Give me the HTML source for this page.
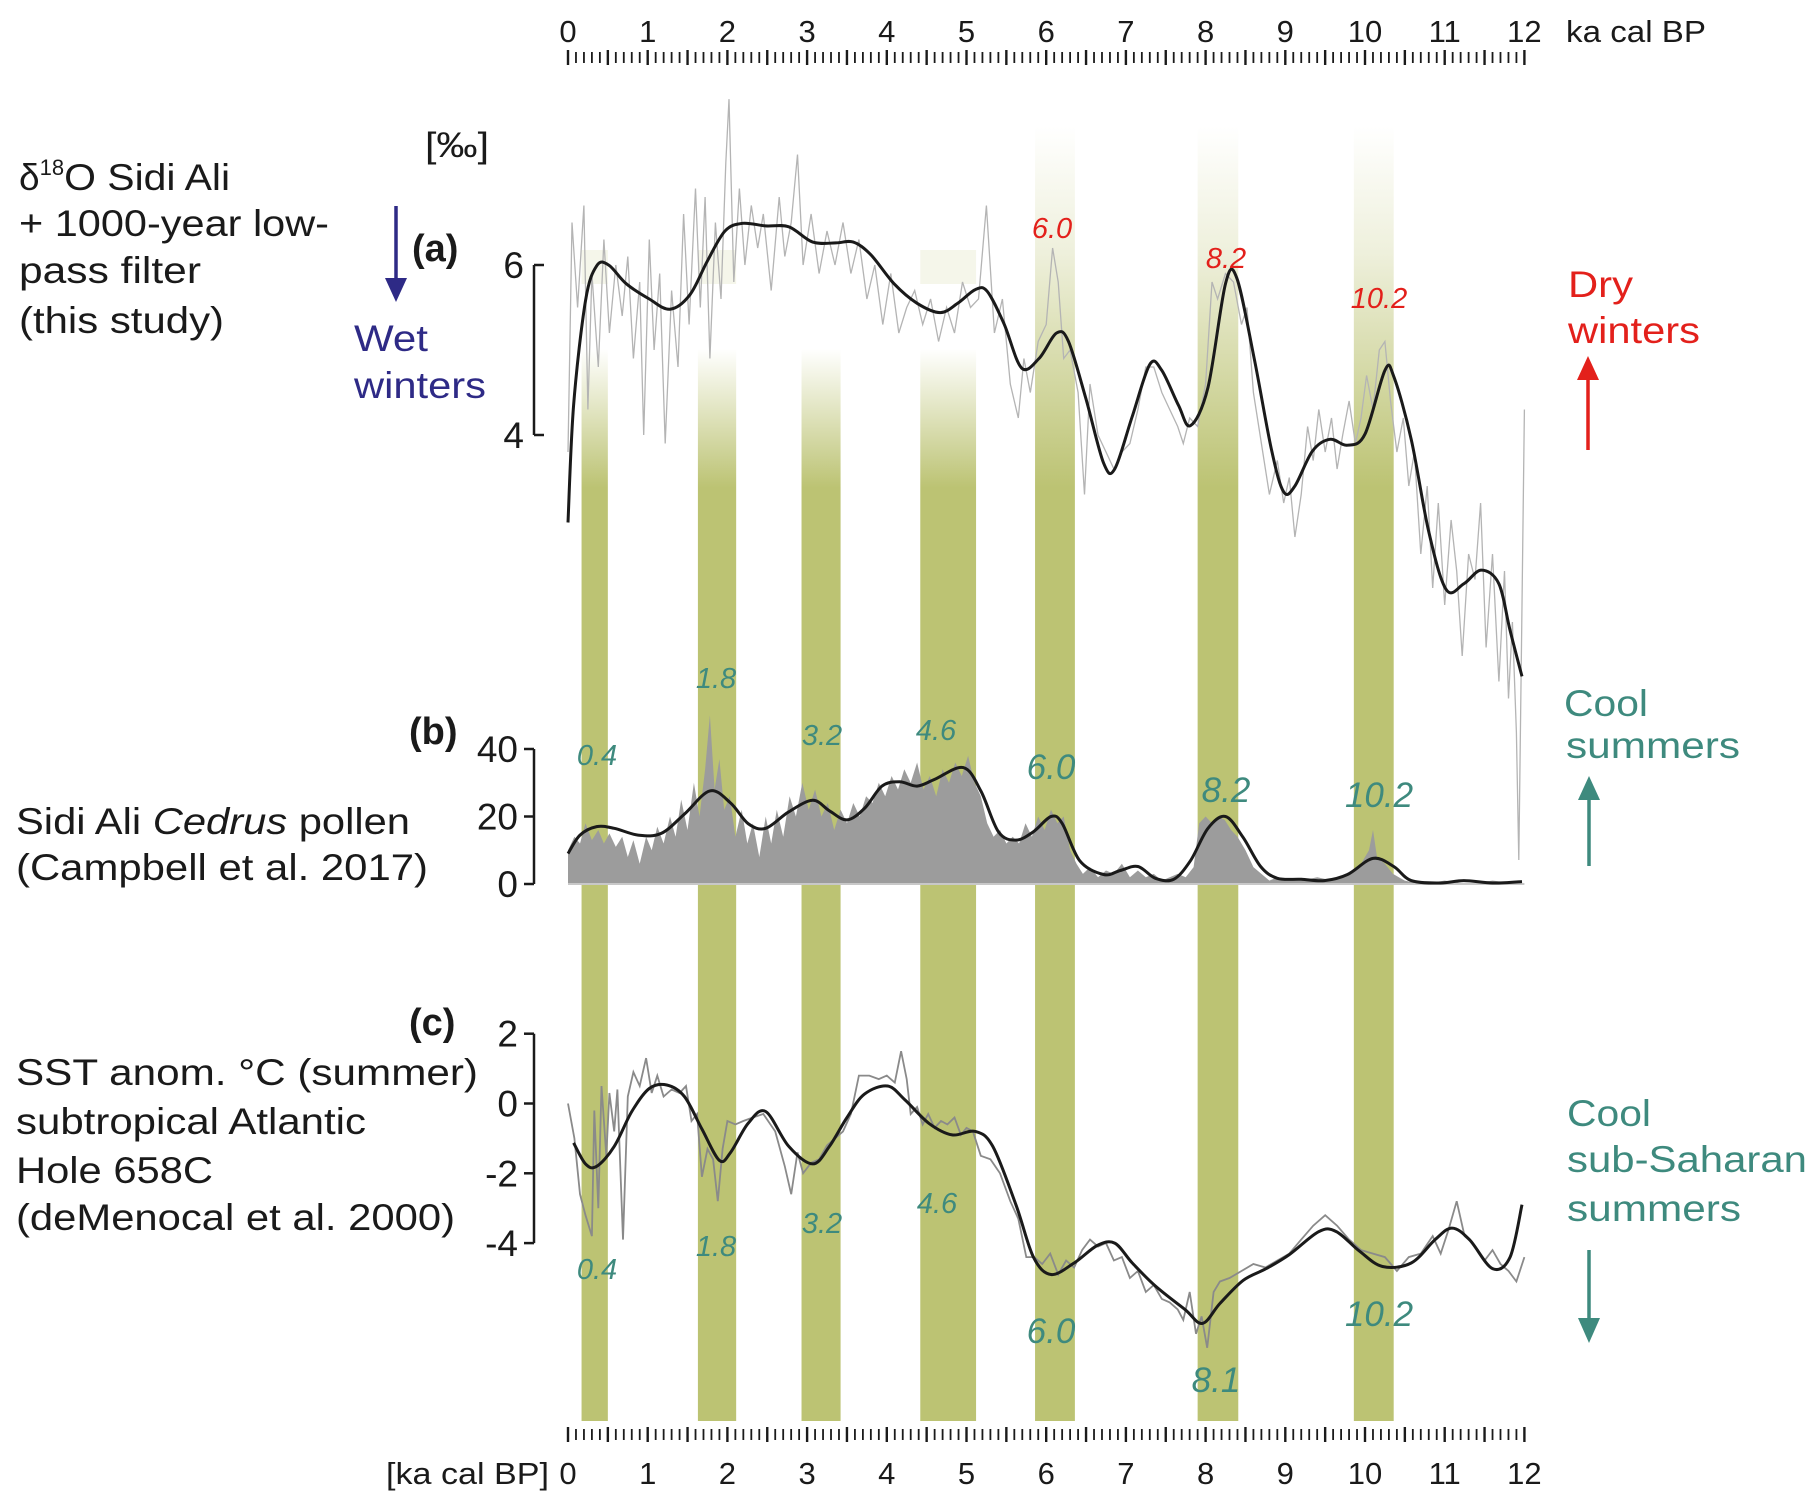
<!DOCTYPE html>
<html><head><meta charset="utf-8"><style>
html,body{margin:0;padding:0;background:#fff;}
svg{display:block;font-family:"Liberation Sans",Arial,sans-serif;}
</style></head>
<body>
<svg id="chart" width="1815" height="1509" viewBox="0 0 1815 1509" xmlns="http://www.w3.org/2000/svg">
<defs>
<linearGradient id="fadeShort" x1="0" y1="349" x2="0" y2="488" gradientUnits="userSpaceOnUse">
<stop offset="0" stop-color="#bcc373" stop-opacity="0"/><stop offset="1" stop-color="#bcc373" stop-opacity="1"/></linearGradient>
<linearGradient id="fadeLong" x1="0" y1="126" x2="0" y2="488" gradientUnits="userSpaceOnUse">
<stop offset="0" stop-color="#bcc373" stop-opacity="0"/><stop offset="0.35" stop-color="#bcc373" stop-opacity="0.25"/><stop offset="1" stop-color="#bcc373" stop-opacity="1"/></linearGradient>
</defs>
<g id="bands"></g>
<g id="panelA"></g>
<g id="panelB"></g>
<g id="panelC"></g>
<g id="axes"></g>

<g font-size="37" fill="#1a1a1a">
<text x="425" y="157" font-size="35" textLength="64" lengthAdjust="spacingAndGlyphs">[‰]</text>
<text x="19" y="190">δ<tspan font-size="22" dy="-15">18</tspan><tspan dy="15" textLength="166" lengthAdjust="spacingAndGlyphs">O Sidi Ali</tspan></text>
<text x="19" y="236" textLength="310" lengthAdjust="spacingAndGlyphs">+ 1000-year low-</text>
<text x="19" y="283" textLength="182" lengthAdjust="spacingAndGlyphs">pass filter</text>
<text x="19" y="333" textLength="205" lengthAdjust="spacingAndGlyphs">(this study)</text>
<text x="412" y="261" font-weight="bold" font-size="38">(a)</text>
<text x="354" y="351" fill="#2e2a86" textLength="74" lengthAdjust="spacingAndGlyphs">Wet</text>
<text x="354" y="398" fill="#2e2a86" textLength="132" lengthAdjust="spacingAndGlyphs">winters</text>
<line x1="396" y1="206" x2="396" y2="282" stroke="#2e2a86" stroke-width="3.5"/>
<polygon points="385,278 407,278 396,302" fill="#2e2a86"/>
<text x="1568" y="297" fill="#e3201b" textLength="65" lengthAdjust="spacingAndGlyphs">Dry</text>
<text x="1568" y="343" fill="#e3201b" textLength="132" lengthAdjust="spacingAndGlyphs">winters</text>
<line x1="1588" y1="450" x2="1588" y2="375" stroke="#e3201b" stroke-width="3.5"/>
<polygon points="1577,380 1599,380 1588,356" fill="#e3201b"/>
<g font-style="italic" font-size="29" fill="#e3201b" text-anchor="middle">
<text x="1052" y="238">6.0</text>
<text x="1226" y="268">8.2</text>
<text x="1379" y="308">10.2</text>
</g>

<text x="409" y="744" font-weight="bold" font-size="38">(b)</text>
<text x="16" y="834" textLength="394" lengthAdjust="spacingAndGlyphs">Sidi Ali <tspan font-style="italic">Cedrus</tspan> pollen</text>
<text x="16" y="880" textLength="412" lengthAdjust="spacingAndGlyphs">(Campbell et al. 2017)</text>
<text x="1564" y="716" fill="#3e8a7e" textLength="84" lengthAdjust="spacingAndGlyphs">Cool</text>
<text x="1566" y="758" fill="#3e8a7e" textLength="174" lengthAdjust="spacingAndGlyphs">summers</text>
<line x1="1589" y1="866" x2="1589" y2="795" stroke="#3e8a7e" stroke-width="3.5"/>
<polygon points="1578,800 1600,800 1589,776" fill="#3e8a7e"/>
<g font-style="italic" fill="#3e8a7e" text-anchor="middle">
<text x="597" y="765" font-size="29">0.4</text>
<text x="716" y="688" font-size="29">1.8</text>
<text x="822" y="745" font-size="29">3.2</text>
<text x="936" y="740" font-size="29">4.6</text>
<text x="1051" y="779" font-size="35">6.0</text>
<text x="1226" y="802" font-size="35">8.2</text>
<text x="1379" y="807" font-size="35">10.2</text>
</g>

<text x="409" y="1035" font-weight="bold" font-size="38">(c)</text>
<text x="16" y="1085" textLength="462" lengthAdjust="spacingAndGlyphs">SST anom. °C (summer)</text>
<text x="16" y="1134" textLength="350" lengthAdjust="spacingAndGlyphs">subtropical Atlantic</text>
<text x="16" y="1183" textLength="197" lengthAdjust="spacingAndGlyphs">Hole 658C</text>
<text x="16" y="1230" textLength="439" lengthAdjust="spacingAndGlyphs">(deMenocal et al. 2000)</text>
<text x="1567" y="1126" fill="#3e8a7e" textLength="84" lengthAdjust="spacingAndGlyphs">Cool</text>
<text x="1567" y="1172" fill="#3e8a7e" textLength="240" lengthAdjust="spacingAndGlyphs">sub-Saharan</text>
<text x="1567" y="1221" fill="#3e8a7e" textLength="174" lengthAdjust="spacingAndGlyphs">summers</text>
<line x1="1589" y1="1250" x2="1589" y2="1322" stroke="#3e8a7e" stroke-width="3.5"/>
<polygon points="1578,1318 1600,1318 1589,1343" fill="#3e8a7e"/>
<g font-style="italic" fill="#3e8a7e" text-anchor="middle">
<text x="597" y="1279" font-size="29">0.4</text>
<text x="716" y="1256" font-size="29">1.8</text>
<text x="822" y="1233" font-size="29">3.2</text>
<text x="937" y="1213" font-size="29">4.6</text>
<text x="1051" y="1343" font-size="35">6.0</text>
<text x="1216" y="1392" font-size="35">8.1</text>
<text x="1379" y="1326" font-size="35">10.2</text>
</g>
<text x="1566" y="42" font-size="31" textLength="140" lengthAdjust="spacingAndGlyphs">ka cal  BP</text>
<text x="386" y="1484" font-size="31" textLength="163" lengthAdjust="spacingAndGlyphs">[ka cal  BP]</text>
</g>
</svg>
<script>
// ---------- data ----------
const bandCenters = [0.4, 1.8, 3.2, 4.6, 6.0, 8.2, 10.2];
const bandStarts  = [0.17, 1.63, 2.93, 4.42, 5.86, 7.9, 9.86];
const bandEnds    = [0.5, 2.11, 3.42, 5.12, 6.36, 8.41, 10.36];

const d18oSmoothAge = [0,0.07,0.22,0.36,0.51,0.73,1.02,1.28,1.53,1.75,1.97,2.19,2.48,2.77,3.07,3.36,3.58,3.8,4.09,4.38,4.67,4.89,5.11,5.26,5.47,5.69,5.91,6.13,6.28,6.5,6.72,6.86,7.08,7.3,7.45,7.66,7.81,8.03,8.25,8.39,8.61,8.83,8.98,9.12,9.34,9.56,9.78,10.0,10.25,10.36,10.58,10.8,11.02,11.24,11.46,11.68,11.82,11.97];
const d18oSmoothVal = [2.97,4.35,5.58,5.99,6.0,5.78,5.6,5.48,5.65,6.05,6.4,6.49,6.46,6.45,6.27,6.26,6.27,6.12,5.78,5.55,5.44,5.55,5.71,5.69,5.31,4.79,4.9,5.2,5.1,4.42,3.67,3.6,4.22,4.83,4.76,4.35,4.11,4.56,5.78,5.85,4.9,3.81,3.33,3.4,3.81,3.95,3.88,4.01,4.76,4.69,3.95,2.86,2.18,2.25,2.41,2.25,1.7,1.16];
const d18oRawAge = [0,0.05,0.12,0.2,0.25,0.3,0.38,0.45,0.52,0.6,0.68,0.75,0.82,0.9,0.95,1.02,1.08,1.15,1.22,1.3,1.38,1.45,1.52,1.6,1.66,1.72,1.78,1.85,1.92,1.98,2.02,2.08,2.15,2.22,2.3,2.38,2.45,2.55,2.65,2.72,2.8,2.88,2.95,3.05,3.15,3.25,3.35,3.45,3.55,3.65,3.75,3.85,3.95,4.05,4.15,4.25,4.35,4.45,4.55,4.65,4.75,4.85,4.95,5.05,5.15,5.25,5.35,5.45,5.55,5.65,5.72,5.8,5.9,6.0,6.08,6.15,6.22,6.3,6.4,6.48,6.55,6.65,6.75,6.85,6.95,7.05,7.15,7.25,7.35,7.45,7.55,7.65,7.72,7.8,7.9,8.0,8.08,8.15,8.25,8.35,8.45,8.52,8.6,8.7,8.8,8.9,8.98,9.05,9.12,9.2,9.28,9.35,9.42,9.5,9.58,9.65,9.72,9.8,9.88,9.95,10.02,10.1,10.18,10.25,10.32,10.4,10.48,10.55,10.62,10.7,10.78,10.85,10.92,11.0,11.08,11.15,11.22,11.3,11.38,11.45,11.52,11.6,11.68,11.75,11.8,11.85,11.9,11.93,11.97,12.0];
const d18oRawVal = [3.8,6.5,5.5,6.7,4.3,5.9,4.8,6.3,5.2,6.0,5.4,6.1,4.9,5.8,4.0,6.3,5.0,5.9,3.9,5.7,4.8,6.6,5.3,6.9,5.5,6.8,4.9,6.5,5.6,7.2,7.95,5.8,6.9,6.0,6.7,6.2,6.6,5.7,6.8,6.1,6.5,7.3,6.0,6.6,5.9,6.4,6.0,6.5,5.9,6.3,5.6,6.0,5.3,5.9,5.2,5.5,5.7,5.3,5.6,5.1,5.5,5.2,5.8,5.5,5.6,6.7,5.2,5.6,4.6,4.2,4.9,4.5,5.1,5.3,6.2,5.8,4.9,5.0,4.5,3.3,4.6,4.0,3.8,3.6,3.8,3.9,4.3,4.8,4.8,4.5,4.3,4.1,3.9,4.2,4.1,4.6,5.8,5.6,5.9,5.8,5.3,5.5,4.5,3.9,3.3,3.7,3.2,3.5,2.8,3.3,4.1,3.7,4.3,3.8,4.2,3.6,4.0,4.4,3.9,4.2,4.7,4.3,5.0,5.1,4.4,3.8,4.2,3.4,3.8,2.6,3.4,2.2,3.2,2.0,3.0,2.4,1.4,2.6,2.3,3.2,1.5,2.6,1.1,2.4,0.9,1.8,0.5,-1.0,2.0,4.3];

const pollenSmoothAge = [0,0.15,0.36,0.58,0.88,1.17,1.46,1.78,2.04,2.26,2.48,2.77,3.07,3.28,3.5,3.72,3.94,4.16,4.38,4.6,4.96,5.18,5.4,5.62,5.84,6.06,6.2,6.42,6.72,6.93,7.15,7.37,7.6,7.81,8.03,8.25,8.47,8.69,8.9,9.2,9.49,9.78,10.1,10.36,10.58,10.95,11.24,11.6,11.97];
const pollenSmoothVal = [9,14.5,17,16.5,14.5,15,20.7,27.6,24,17.9,16.5,21.4,24.8,21.7,19,22.4,29,30.3,29,31,34.5,27.6,15.5,13,15.5,20,18,6.9,2.8,4,5.2,1.7,1.4,6.9,16.5,20,13.8,5.2,1.7,1.4,1,2.8,7.6,5.2,1,0.3,1,0.3,0.7];
const pollenRawAge = [0,0.08,0.15,0.22,0.3,0.38,0.45,0.52,0.6,0.68,0.75,0.82,0.9,0.98,1.05,1.12,1.2,1.28,1.35,1.42,1.5,1.58,1.65,1.72,1.78,1.84,1.9,1.96,2.03,2.1,2.18,2.25,2.32,2.4,2.48,2.55,2.62,2.7,2.78,2.86,2.94,3.02,3.1,3.18,3.26,3.34,3.42,3.5,3.58,3.66,3.74,3.82,3.9,3.98,4.06,4.14,4.22,4.3,4.38,4.46,4.54,4.62,4.7,4.78,4.86,4.94,5.02,5.1,5.18,5.26,5.34,5.42,5.5,5.58,5.66,5.74,5.82,5.9,5.98,6.06,6.14,6.22,6.3,6.38,6.46,6.55,6.65,6.75,6.85,6.95,7.05,7.15,7.25,7.35,7.45,7.55,7.65,7.75,7.85,7.92,8.0,8.08,8.16,8.24,8.32,8.4,8.5,8.6,8.7,8.8,8.9,9.0,9.2,9.4,9.6,9.8,9.95,10.05,10.1,10.15,10.25,10.35,10.5,10.7,11.0,11.3,11.6,12];
const pollenRawVal = [10,14,12,18,13,16,12,15,11,14,8,13,6,14,10,17,12,20,14,25,16,30,20,34,50,28,37,22,26,14,22,12,18,8,20,12,22,14,26,20,30,22,28,20,24,16,22,18,24,20,26,24,30,26,32,28,34,30,36,28,32,26,34,30,36,32,38,30,26,18,14,16,12,14,12,18,14,20,16,22,18,20,10,6,3,5,2,4,3,6,2,4,2,3,1,2,3,2,5,18,20,18,20,19,16,14,10,5,3,1,2,1,1,2,1,3,6,10,16,8,6,3,1,0,1,0,1,0];

const sstSmoothAge = [0.07,0.22,0.36,0.58,0.8,1.02,1.24,1.46,1.68,1.9,2.04,2.26,2.48,2.77,3.07,3.28,3.5,3.72,4.01,4.23,4.53,4.82,5.11,5.33,5.62,5.84,6.06,6.35,6.64,6.86,7.08,7.37,7.74,7.96,8.18,8.47,8.76,9.05,9.42,9.64,9.93,10.22,10.58,10.88,11.09,11.31,11.6,11.82,11.97];
const sstSmoothVal = [-1.13,-1.73,-1.8,-1.23,-0.23,0.43,0.53,0.2,-0.73,-1.63,-1.4,-0.57,-0.23,-1.23,-1.73,-1.23,-0.4,0.27,0.5,0.1,-0.57,-0.9,-0.8,-1.23,-2.9,-4.4,-4.9,-4.57,-4.07,-4,-4.57,-5.23,-5.9,-6.3,-5.73,-5.07,-4.73,-4.33,-3.67,-3.67,-4.23,-4.67,-4.57,-3.9,-3.57,-3.9,-4.73,-4.4,-2.9];
const sstRawAge = [0,0.08,0.15,0.22,0.3,0.33,0.38,0.42,0.48,0.52,0.58,0.62,0.69,0.75,0.82,0.9,0.98,1.05,1.12,1.2,1.3,1.4,1.48,1.55,1.62,1.68,1.75,1.82,1.88,1.94,2.0,2.1,2.2,2.32,2.45,2.6,2.72,2.8,2.88,2.95,3.05,3.15,3.25,3.35,3.45,3.55,3.65,3.78,3.9,4.0,4.1,4.18,4.25,4.3,4.38,4.45,4.52,4.6,4.68,4.76,4.85,4.93,5.0,5.08,5.18,5.3,5.42,5.55,5.65,5.75,5.85,5.95,6.05,6.15,6.25,6.35,6.45,6.55,6.65,6.75,6.85,6.95,7.05,7.15,7.25,7.35,7.45,7.55,7.65,7.72,7.8,7.88,7.95,8.02,8.1,8.18,8.3,8.45,8.6,8.75,8.9,9.05,9.2,9.35,9.5,9.65,9.8,9.95,10.1,10.25,10.4,10.55,10.7,10.85,10.95,11.05,11.15,11.25,11.35,11.5,11.6,11.7,11.8,11.9,12.0];
const sstRawVal = [0.0,-1.0,-2.6,-3.2,-3.8,-0.2,-3.0,0.5,-1.5,0.3,-0.8,0.4,-3.9,0.2,0.9,0.5,1.3,0.3,0.8,0.2,0.4,0.3,0.5,-0.5,-0.3,-2.1,-1.3,-1.6,-2.8,-1.3,-0.5,-0.6,-0.5,-0.4,-0.3,-0.8,-1.8,-2.6,-1.4,-2.0,-1.7,-1.6,-1.2,-1.0,-0.8,-0.3,0.8,0.8,0.7,0.8,0.6,1.5,0.7,-0.3,-0.1,-0.6,-0.3,-0.7,-0.5,-0.6,-0.4,-0.9,-0.7,-0.8,-1.5,-1.6,-2.0,-2.8,-3.3,-4.4,-4.4,-4.6,-4.3,-4.9,-4.5,-4.7,-4.2,-3.9,-4.1,-4.0,-4.5,-4.4,-5.0,-4.8,-5.4,-5.2,-5.6,-5.7,-5.9,-6.2,-5.4,-6.6,-6.1,-7.0,-5.4,-5.1,-5.0,-4.8,-4.6,-4.7,-4.5,-4.3,-3.9,-3.5,-3.2,-3.5,-3.9,-4.2,-4.3,-4.4,-4.8,-4.4,-4.3,-3.8,-4.3,-3.6,-2.8,-3.8,-4.0,-4.5,-4.2,-4.6,-4.8,-5.1,-4.4];

const axisTicksA = [4, 6];
const axisTicksB = [0, 20, 40];
const axisTicksC = [-4, -2, 0, 2];
const timeLabels = [0,1,2,3,4,5,6,7,8,9,10,11,12];
const paleTopBands = [0.4, 1.8, 4.6];

// ---------- scales ----------
const NS = "http://www.w3.org/2000/svg";
const X = t => 568 + t * 79.7;
const YA = v => 265 + (6 - v) * 85;
const YB = v => 884 - v * 3.375;
const YC = v => 1103.5 - v * 34.9;

function mk(tag, attrs, parent) {
  const e = document.createElementNS(NS, tag);
  for (const k in attrs) e.setAttribute(k, attrs[k]);
  parent.appendChild(e);
  return e;
}
function pathFrom(ages, vals, ys) {
  return ages.map((a, i) => (i ? "L" : "M") + X(a).toFixed(1) + "," + ys(vals[i]).toFixed(1)).join("");
}
function smoothFrom(ages, vals, ys) {
  const p = ages.map((a, i) => [X(a), ys(vals[i])]);
  let d = "M" + p[0][0].toFixed(1) + "," + p[0][1].toFixed(1);
  for (let i = 0; i < p.length - 1; i++) {
    const p0 = p[Math.max(0, i - 1)], p1 = p[i], p2 = p[i + 1], p3 = p[Math.min(p.length - 1, i + 2)];
    const c1 = [p1[0] + (p2[0] - p0[0]) / 6, p1[1] + (p2[1] - p0[1]) / 6];
    const c2 = [p2[0] - (p3[0] - p1[0]) / 6, p2[1] - (p3[1] - p1[1]) / 6];
    d += "C" + c1[0].toFixed(1) + "," + c1[1].toFixed(1) + " " + c2[0].toFixed(1) + "," + c2[1].toFixed(1) + " " + p2[0].toFixed(1) + "," + p2[1].toFixed(1);
  }
  return d;
}

// ---------- bands ----------
const bandsG = document.getElementById("bands");
bandCenters.forEach((c, i) => {
  const x0 = X(bandStarts[i]), w = X(bandEnds[i]) - x0;
  const late = c >= 6;
  if (paleTopBands.includes(c)) {
    const pale = mk("rect", {x: x0, y: 250, width: w, height: 34, fill: "#bcc373", opacity: 0.15}, bandsG);
    
    
  }
  const r = mk("rect", {x: x0, y: late ? 126 : 349, width: w, height: 1421 - (late ? 126 : 349), fill: late ? "url(#fadeLong)" : "url(#fadeShort)"}, bandsG);
  
  
});

// ---------- panel A ----------
const gA = document.getElementById("panelA");
const rawA = mk("path", {d: pathFrom(d18oRawAge, d18oRawVal, YA), fill: "none", stroke: "#b4b4b4", "stroke-width": 1.3}, gA);


const smA = mk("path", {d: smoothFrom(d18oSmoothAge, d18oSmoothVal, YA), fill: "none", stroke: "#1a1a1a", "stroke-width": 3}, gA);



// ---------- panel B ----------
const gB = document.getElementById("panelB");
const areaD = pathFrom(pollenRawAge, pollenRawVal, YB) + "L" + X(12) + "," + YB(0) + "L" + X(0) + "," + YB(0) + "Z";
const area = mk("path", {d: areaD, fill: "#9c9c9c", stroke: "none"}, gB);


const base = mk("line", {x1: X(0), x2: X(12), y1: YB(0), y2: YB(0), stroke: "#c8c8c8", "stroke-width": 2}, gB);


const smB = mk("path", {d: smoothFrom(pollenSmoothAge, pollenSmoothVal, YB), fill: "none", stroke: "#1a1a1a", "stroke-width": 3}, gB);



// ---------- panel C ----------
const gC = document.getElementById("panelC");
const rawC = mk("path", {d: pathFrom(sstRawAge, sstRawVal, YC), fill: "none", stroke: "#8a8a8a", "stroke-width": 1.8}, gC);


const smC = mk("path", {d: smoothFrom(sstSmoothAge, sstSmoothVal, YC), fill: "none", stroke: "#1a1a1a", "stroke-width": 3}, gC);



// ---------- axes ----------
const ax = document.getElementById("axes");
function yAxis(ticks, ys, name, tickRight) {
  const lo = Math.min(...ticks), hi = Math.max(...ticks);
  const l = mk("line", {x1: 534, x2: 534, y1: ys(hi), y2: ys(lo), stroke: "#1a1a1a", "stroke-width": 2.5}, ax);
  
  
  ticks.forEach(v => {
    const tk = mk("line", {x1: 534, x2: tickRight ? 544 : 524, y1: ys(v), y2: ys(v), stroke: "#1a1a1a", "stroke-width": 2.5}, ax);
    
    
    const t = mk("text", {x: tickRight ? 524 : 518, y: ys(v) + 13, "text-anchor": "end", "font-size": 37, fill: "#1a1a1a"}, ax);
    t.textContent = v;
    
    
  });
}
yAxis(axisTicksA, YA, "d18o-y", true);
yAxis(axisTicksB, YB, "pollen-y", false);
yAxis(axisTicksC, YC, "sst-y", false);

function xAxis(y0, labelY, name) {
  for (let i = 0; i <= 120; i++) {
    const t = i * 0.1, isMaj = i % 5 === 0;
    const tk = mk("line", {x1: X(t), x2: X(t), y1: isMaj ? y0 : y0 + 2, y2: isMaj ? y0 + 15 : y0 + 13, stroke: "#1a1a1a", "stroke-width": isMaj ? 2.4 : 1.8}, ax);
    
    
  }
  timeLabels.forEach(v => {
    const t = mk("text", {x: X(v), y: labelY, "text-anchor": "middle", "font-size": 31, fill: "#1a1a1a"}, ax);
    t.textContent = v;
    
    
  });
}
xAxis(50, 42, "top-time-axis");
xAxis(1427, 1484, "bottom-time-axis");
</script>
</body></html>
